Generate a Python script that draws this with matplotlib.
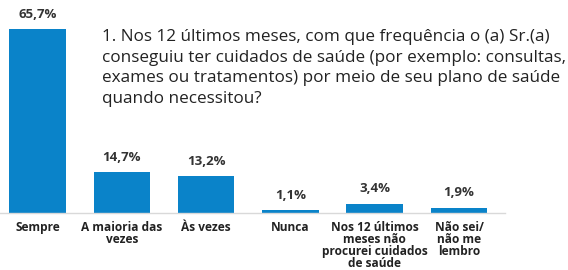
import matplotlib
matplotlib.use("Agg")
import matplotlib.pyplot as plt

categories = ["Sempre", "A maioria das\nvezes", "Às vezes", "Nunca",
              "Nos 12 últimos\nmeses não\nprocurei cuidados\nde saúde", "Não sei/\nnão me\nlembro"]
values = [65.7, 14.7, 13.2, 1.1, 3.4, 1.9]
value_labels = ["65,7%", "14,7%", "13,2%", "1,1%", "3,4%", "1,9%"]
title = ("1. Nos 12 últimos meses, com que frequência o (a) Sr.(a)\n"
         "conseguiu ter cuidados de saúde (por exemplo: consultas,\n"
         "exames ou tratamentos) por meio de seu plano de saúde\n"
         "quando necessitou?")

plt.rcParams['font.family'] = ['Open Sans', 'DejaVu Sans']

fig = plt.figure(figsize=(5.68, 2.70), dpi=100)
ax = fig.add_axes([0, 0.211, 1, 0.778])
x = list(range(len(values)))
ax.bar(x, values, width=0.67, color="#0a83c9", zorder=2)
ax.set_xlim(-0.445, -0.445 + 568 / 84.3)
ax.set_ylim(0, 75)
for s in ["top", "right", "left"]:
    ax.spines[s].set_visible(False)
ax.spines["bottom"].set_bounds(-0.445, 5.55)
ax.spines["bottom"].set_color("#d9d9d9")
ax.spines["bottom"].set_linewidth(1.0)
ax.set_yticks([])
ax.set_xticks(x)
ax.set_xticklabels(categories, fontsize=8.6, fontweight="bold", color="#222222",
                   linespacing=0.9, va="top")
ax.tick_params(axis="x", length=0, pad=6)
for xi, v, lab in zip(x, values, value_labels):
    ax.annotate(lab, (xi, v), xytext=(0, 6), textcoords="offset points",
                ha="center", va="bottom", fontsize=9.5, fontweight="bold", color="#333333")
fig.text(102 / 568, 1 - 29 / 270, title, ha="left", va="top", fontsize=12.3,
         color="#222222", linespacing=1.39)
fig.savefig("out.png", dpi=100)
